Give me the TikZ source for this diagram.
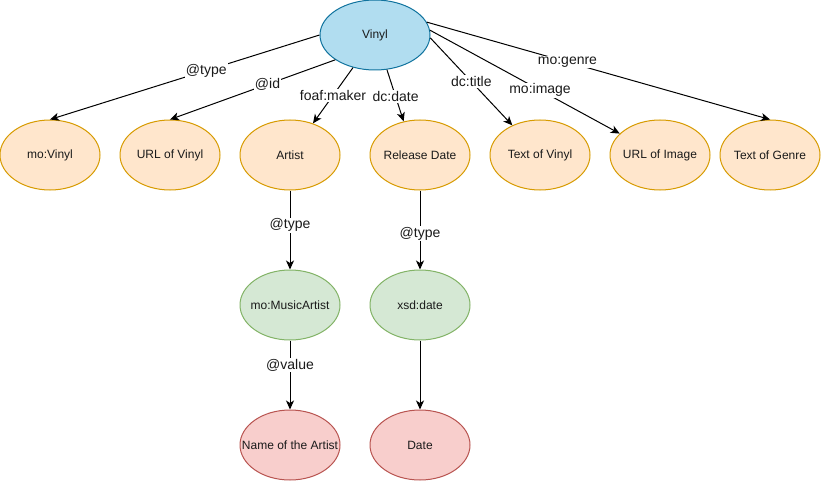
\documentclass[tikz,border=0pt]{standalone}
\usepackage{fontspec}
\setmainfont{Liberation Sans}
\usetikzlibrary{shapes.geometric,arrows.meta}

\definecolor{blueFill}{HTML}{B1DDF0}
\definecolor{blueLine}{HTML}{10739E}
\definecolor{orangeFill}{HTML}{FFE6CC}
\definecolor{orangeLine}{HTML}{D79B00}
\definecolor{greenFill}{HTML}{D5E8D4}
\definecolor{greenLine}{HTML}{82B366}
\definecolor{redFill}{HTML}{F8CECC}
\definecolor{redLine}{HTML}{B85450}
\definecolor{txt}{HTML}{1A1A1A}

% zero-width text box so every ellipse keeps its fixed size
\newcommand{\ovaltext}[1]{\makebox[0pt]{#1}}

\tikzset{
  oval/.style={ellipse, minimum width=100pt, minimum height=70pt, inner sep=0pt,
    line width=1pt, text=txt, font=\fontsize{12}{14}\selectfont},
  root/.style={oval, minimum width=110pt, fill=blueFill, draw=blueLine},
  literal/.style={oval, fill=orangeFill, draw=orangeLine},
  typebox/.style={oval, fill=greenFill, draw=greenLine},
  valuebox/.style={oval, fill=redFill, draw=redLine},
  arr/.style={line width=1pt, -{Stealth[length=9pt,width=8pt,inset=2.5pt]}},
  lbl/.style={fill=white, inner sep=1pt, text=txt, font=\fontsize{14}{16}\selectfont}
}

\begin{document}
\begin{tikzpicture}[x=1pt,y=-1pt]
  \useasboundingbox (0,0) rectangle (821,481);

  % root resource
  \node[root] (vinyl) at (375,35) {\ovaltext{Vinyl}};

  % properties of the vinyl
  \node[literal] (movinyl)   at (50,155)  {\ovaltext{mo:Vinyl}};
  \node[literal] (urlvinyl)  at (170,155) {\ovaltext{URL of Vinyl}};
  \node[literal] (artist)    at (290,155) {\ovaltext{Artist}};
  \node[literal] (release)   at (420,155) {\ovaltext{Release Date}};
  \node[literal] (textvinyl) at (540,155) {\ovaltext{Text of Vinyl}};
  \node[literal] (urlimage)  at (660,155) {\ovaltext{URL of Image}};
  \node[literal] (textgenre) at (770,155) {\ovaltext{Text of Genre}};

  % types
  \node[typebox] (musicartist) at (290,305) {\ovaltext{mo:MusicArtist}};
  \node[typebox] (xsddate)     at (420,305) {\ovaltext{xsd:date}};

  % values
  \node[valuebox] (artistname) at (290,445) {\ovaltext{Name of the Artist}};
  \node[valuebox] (datevalue)  at (420,445) {\ovaltext{Date}};

  % edges from the root
  \draw[arr] (vinyl.west) -- node[lbl,pos=0.42] (ltype) {@type} (movinyl.north);
  \draw[arr] (vinyl.212) -- node[lbl,pos=0.41] (lid) {@id} (urlvinyl.north);
  \draw[arr] (vinyl.236) -- node[lbl,pos=0.5] (lmaker) {foaf:maker} (artist.54);
  \draw[arr] (vinyl.289) -- node[lbl,pos=0.52] (ldate) {dc:date} (release.116);
  \draw[arr] (vinyl.-3) -- node[lbl,pos=0.5] (ltitle) {dc:title} (textvinyl.133);
  \draw[arr] (vinyl.5) -- node[lbl,pos=0.58] (limage) {mo:image} (urlimage.152);
  \draw[arr] (vinyl.14) -- node[lbl,pos=0.41] (lgenre) {mo:genre} (textgenre.north);

  % vertical chains
  \draw[arr] (artist) -- node[lbl,pos=0.44] (latype) {@type} (musicartist);
  \draw[arr] (musicartist) -- node[lbl,pos=0.36] (lvalue) {@value} (artistname);
  \draw[arr] (release) -- node[lbl,pos=0.55] (lrtype) {@type} (xsddate);
  \draw[arr] (xsddate) -- (datevalue);
\end{tikzpicture}
\end{document}
